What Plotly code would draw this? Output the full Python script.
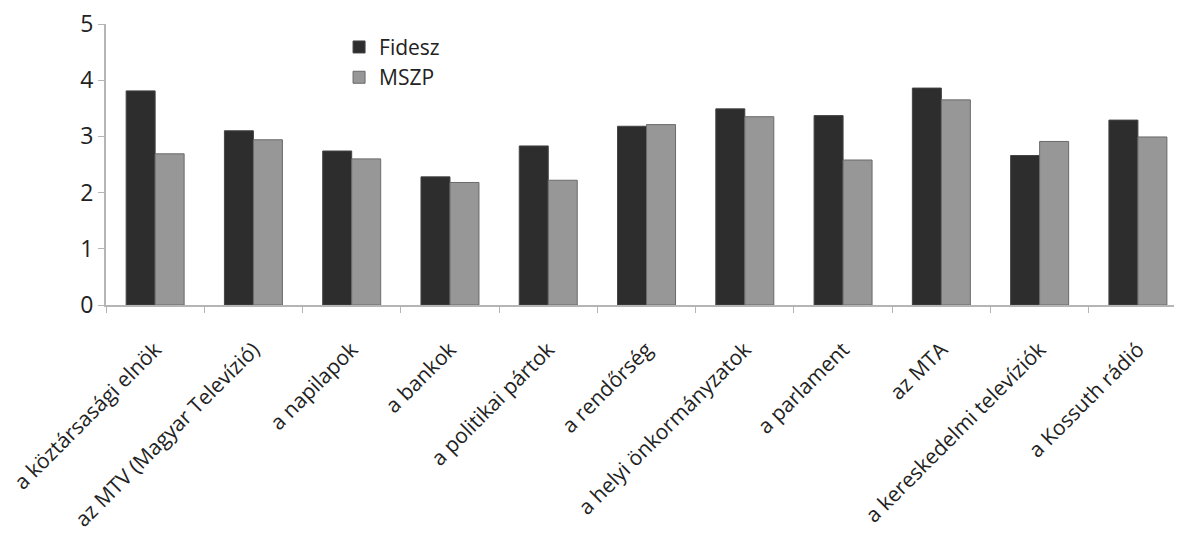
import plotly.graph_objects as go

categories = [
    "a köztársasági elnök",
    "az MTV (Magyar Televízió)",
    "a napilapok",
    "a bankok",
    "a politikai pártok",
    "a rendőrség",
    "a helyi önkormányzatok",
    "a parlament",
    "az MTA",
    "a kereskedelmi televíziók",
    "a Kossuth rádió",
]
fidesz = [3.81, 3.10, 2.74, 2.28, 2.83, 3.18, 3.49, 3.37, 3.86, 2.66, 3.29]
mszp = [2.69, 2.94, 2.60, 2.18, 2.22, 3.21, 3.35, 2.58, 3.65, 2.91, 2.99]
y_ticks = [0, 1, 2, 3, 4, 5]

font_family = "Open Sans, Lato, DejaVu Sans, sans-serif"

fig = go.Figure()
fig.add_trace(go.Bar(
    x=categories, y=fidesz, name="Fidesz",
    marker=dict(color="#2d2d2d", line=dict(color="#444444", width=1)),
))
fig.add_trace(go.Bar(
    x=categories, y=mszp, name="MSZP",
    marker=dict(color="#979797", line=dict(color="#6a6a6a", width=1)),
))

fig.update_layout(
    width=1182, height=543,
    margin=dict(l=98, r=0, t=16, b=246),
    paper_bgcolor="white", plot_bgcolor="white",
    barmode="group", bargap=0.41, bargroupgap=0,
    font=dict(family=font_family, color="#222222"),
    legend=dict(
        x=0.215, y=0.99, xanchor="left", yanchor="top",
        font=dict(size=21, color="#222222"),
        bgcolor="rgba(0,0,0,0)", itemwidth=30, tracegroupgap=0,
    ),
    showlegend=True,
)
fig.update_xaxes(
    type="category",
    range=[-0.5, 10.53],
    automargin=False,
    showline=True, linecolor="#b5b5b5", linewidth=2,
    ticks="outside", tickson="boundaries", ticklen=6, tickcolor="#b5b5b5",
    tickangle=-45, ticklabelstandoff=22, ticklabeloverflow="allow",
    tickfont=dict(size=21, color="#222222"),
    showgrid=False, zeroline=False,
)
fig.update_yaxes(
    range=[0, 5], tickvals=y_ticks,
    automargin=False,
    showline=True, linecolor="#b5b5b5", linewidth=2,
    ticks="outside", ticklen=6, tickcolor="#b5b5b5",
    ticklabeloverflow="allow",
    tickfont=dict(size=23, color="#222222"),
    showgrid=False, zeroline=False,
)

fig.write_html("out.html")
